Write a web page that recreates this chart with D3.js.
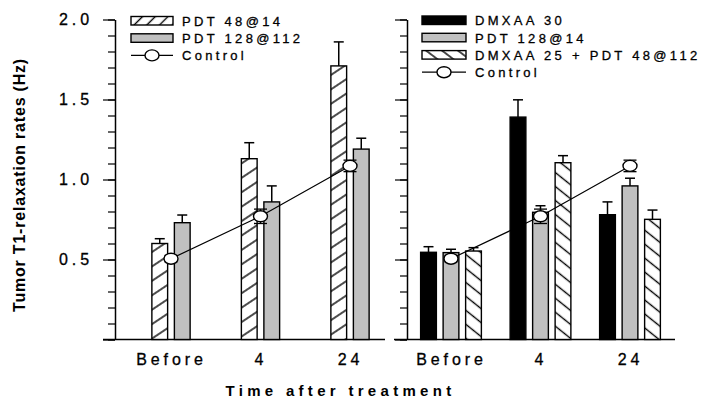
<!DOCTYPE html>
<html>
<head>
<meta charset="utf-8">
<script src="https://cdn.jsdelivr.net/npm/d3@7"></script>
<style>
  body { margin: 0; background: #fff; }
  svg { display: block; font-family: "Liberation Sans", Arial, sans-serif; }
  .thick { stroke: #000; stroke-width: 0.3px; }
</style>
</head>
<body>
<div id="chart-container"></div>
<script>
// 圖表尺寸
const width = 703;
const height = 406;

// 資料
const timeLabels = ["Before", "4", "24"];

// 左圖
const pdt48at14 = [0.60, 1.13, 1.71];
const pdt48at14Err = [0.03, 0.10, 0.15];
const pdt128at112 = [0.73, 0.86, 1.19];
const pdt128at112Err = [0.048, 0.10, 0.068];

// 右圖
const dmxaa30 = [0.545, 1.39, 0.78];
const dmxaa30Err = [0.035, 0.108, 0.08];
const pdt128at14 = [0.543, 0.795, 0.96];
const pdt128at14Err = [0.021, 0.041, 0.048];
const dmxaa25pdt48 = [0.553, 1.105, 0.751];
const dmxaa25pdt48Err = [0.021, 0.044, 0.058];

// 對照組 (兩圖相同)
const control = [0.505, 0.77, 1.085];
const controlErr = [0.02, 0.045, 0.036];

// y 軸刻度
const yMajorTicks = [0, 0.5, 1.0, 1.5, 2.0];
const yMinorTicks = d3.range(0, 21).map(d => d / 10);
const yTickLabels = ["", "0.5", "1.0", "1.5", "2.0"];

const gray = "#c0c0c0";

// y 比例尺
const y = d3.scaleLinear().domain([0, 2]).range([339.5, 19.5]);

const svg = d3.select("#chart-container")
  .append("svg")
  .attr("width", width)
  .attr("height", height);

// 斜線圖樣
const defs = svg.append("defs");
function hatch(id, angle, gap) {
  const p = defs.append("pattern")
    .attr("id", id)
    .attr("patternUnits", "userSpaceOnUse")
    .attr("width", 10)
    .attr("height", gap)
    .attr("patternTransform", `rotate(${angle})`);
  p.append("rect").attr("width", 10).attr("height", gap).attr("fill", "#fff");
  p.append("line")
    .attr("x1", -1).attr("x2", 11)
    .attr("y1", gap / 2).attr("y2", gap / 2)
    .attr("stroke", "#000")
    .attr("stroke-width", 1.4);
}
hatch("hatchUp", -33.7, 12);
hatch("hatchDown", 38.7, 10.9);
hatch("hatchUpLegend", -45, 9);
hatch("hatchDownLegend", 37, 9.6);

const panels = [
  {
    axisX: 115,
    lineX: [103, 385],
    range: [171, 350],
    showLabels: true,
    series: [
      { name: "PDT 48@14", values: pdt48at14, err: pdt48at14Err, fill: "url(#hatchUp)", legendFill: "url(#hatchUpLegend)" },
      { name: "PDT 128@112", values: pdt128at112, err: pdt128at112Err, fill: gray, legendFill: gray }
    ],
    legend: { x: 131, y: 16.5, w: 42 }
  },
  {
    axisX: 407,
    lineX: [394, 675],
    range: [451, 630],
    showLabels: false,
    series: [
      { name: "DMXAA 30", values: dmxaa30, err: dmxaa30Err, fill: "#000", legendFill: "#000" },
      { name: "PDT 128@14", values: pdt128at14, err: pdt128at14Err, fill: gray, legendFill: gray },
      { name: "DMXAA 25 + PDT 48@112", values: dmxaa25pdt48, err: dmxaa25pdt48Err, fill: "url(#hatchDown)", legendFill: "url(#hatchDownLegend)" }
    ],
    legend: { x: 422, y: 16, w: 44 }
  }
];

const step = 22.5;

panels.forEach(panel => {
  const g = svg.append("g");

  const x = d3.scalePoint().domain(timeLabels).range(panel.range);
  const n = panel.series.length;
  const xSub = d3.scaleBand()
    .domain(panel.series.map(s => s.name))
    .range([-n * step / 2, n * step / 2])
    .paddingInner(0.3)
    .paddingOuter(0.15);

  // x 軸線
  g.append("line")
    .attr("x1", panel.lineX[0]).attr("x2", panel.lineX[1])
    .attr("y1", y(0)).attr("y2", y(0))
    .attr("stroke", "#000").attr("stroke-width", 1.5);

  // x 軸標籤
  g.append("g")
    .attr("transform", `translate(0,${y(0)})`)
    .style("font-size", "16px")
    .call(d3.axisBottom(x).tickSize(0).tickPadding(14))
    .call(g => g.select(".domain").remove())
    .selectAll("text")
    .attr("fill", "#000")
    .attr("class", "thick")
    .style("font-family", '"Liberation Sans", Arial, sans-serif')
    .style("letter-spacing", "3.9px");

  // y 軸 (次要刻度)
  g.append("g")
    .attr("transform", `translate(${panel.axisX},0)`)
    .call(d3.axisLeft(y).tickValues(yMinorTicks).tickSize(7).tickSizeOuter(0).tickFormat(""))
    .call(g => g.select(".domain").attr("stroke-width", 1.5))
    .selectAll(".tick line").attr("stroke-width", 1.2);

  // y 軸 (主要刻度)
  const major = g.append("g")
    .attr("transform", `translate(${panel.axisX},0)`)
    .style("font-size", "16px")
    .call(d3.axisLeft(y).tickValues(yMajorTicks).tickSize(12).tickPadding(10)
      .tickFormat((d, i) => panel.showLabels ? yTickLabels[i] : ""))
    .call(g => g.select(".domain").remove());
  major.selectAll(".tick line").attr("stroke-width", 1.2);
  major.selectAll(".tick text")
    .attr("fill", "#000")
    .attr("class", "thick")
    .attr("x", -22)
    .style("font-family", '"Liberation Sans", Arial, sans-serif')
    .style("letter-spacing", "3.9px");

  // 長條
  panel.series.forEach(s => {
    const bw = xSub.bandwidth();
    const bars = g.append("g");
    bars.selectAll("g.err")
      .data(s.values)
      .join("g")
      .attr("class", "err")
      .each(function (d, i) {
        const cx = x(timeLabels[i]) + xSub(s.name) + bw / 2;
        const top = y(d + s.err[i]);
        d3.select(this).append("line")
          .attr("x1", cx).attr("x2", cx)
          .attr("y1", y(d)).attr("y2", top)
          .attr("stroke", "#000").attr("stroke-width", 1.5);
        d3.select(this).append("line")
          .attr("x1", cx - 5).attr("x2", cx + 5)
          .attr("y1", top).attr("y2", top)
          .attr("stroke", "#000").attr("stroke-width", 1.5);
      });
    bars.selectAll("rect")
      .data(s.values)
      .join("rect")
      .attr("x", (d, i) => x(timeLabels[i]) + xSub(s.name))
      .attr("width", bw)
      .attr("y", d => y(d))
      .attr("height", d => y(0) - y(d))
      .attr("fill", s.fill)
      .attr("stroke", "#000")
      .attr("stroke-width", 1.4);
  });

  // 對照組折線
  const line = d3.line()
    .x((d, i) => x(timeLabels[i]))
    .y(d => y(d));
  g.append("path")
    .datum(control)
    .attr("fill", "none")
    .attr("stroke", "#000")
    .attr("stroke-width", 1.2)
    .attr("d", line);

  const ctrl = g.append("g").selectAll("g")
    .data(control)
    .join("g");
  ctrl.each(function (d, i) {
    const cx = x(timeLabels[i]);
    const sel = d3.select(this);
    sel.append("line")
      .attr("x1", cx).attr("x2", cx)
      .attr("y1", y(d - controlErr[i])).attr("y2", y(d + controlErr[i]))
      .attr("stroke", "#000").attr("stroke-width", 1.3);
    [d - controlErr[i], d + controlErr[i]].forEach(v => {
      sel.append("line")
        .attr("x1", cx - 6.5).attr("x2", cx + 6.5)
        .attr("y1", y(v)).attr("y2", y(v))
        .attr("stroke", "#000").attr("stroke-width", 1.3);
    });
    sel.append("ellipse")
      .attr("cx", cx).attr("cy", y(d))
      .attr("rx", 7).attr("ry", 5.5)
      .attr("fill", "#fff")
      .attr("stroke", "#000")
      .attr("stroke-width", 1.4);
  });

  // 圖例
  const lg = g.append("g")
    .style("font-size", "13px")
    .style("letter-spacing", "3.3px");
  const rowH = 17.3;
  panel.series.forEach((s, i) => {
    lg.append("rect")
      .attr("x", panel.legend.x)
      .attr("y", panel.legend.y + i * rowH)
      .attr("width", panel.legend.w)
      .attr("height", 8.5)
      .attr("fill", s.legendFill)
      .attr("stroke", "#000")
      .attr("stroke-width", 1.4);
    lg.append("text")
      .attr("class", "thick")
      .attr("x", panel.legend.x + panel.legend.w + 9)
      .attr("y", panel.legend.y + i * rowH + 9.2)
      .text(s.name);
  });
  const cy = panel.legend.y + n * rowH + 4.3;
  lg.append("line")
    .attr("x1", panel.legend.x).attr("x2", panel.legend.x + panel.legend.w)
    .attr("y1", cy).attr("y2", cy)
    .attr("stroke", "#000").attr("stroke-width", 1.2);
  lg.append("ellipse")
    .attr("cx", panel.legend.x + panel.legend.w / 2).attr("cy", cy)
    .attr("rx", 7).attr("ry", 5.5)
    .attr("fill", "#fff").attr("stroke", "#000").attr("stroke-width", 1.4);
  lg.append("text")
    .attr("class", "thick")
    .attr("x", panel.legend.x + panel.legend.w + 9)
    .attr("y", cy + 4.9)
    .text("Control");
});

// 軸標題
svg.append("text")
  .attr("x", 340.5)
  .attr("y", 396)
  .style("text-anchor", "middle")
  .style("font-size", "15px")
  .style("font-weight", "bold")
  .style("letter-spacing", "4.3px")
  .text("Time after treatment");

svg.append("text")
  .attr("transform", "translate(25,185) rotate(-90)")
  .style("text-anchor", "middle")
  .style("font-size", "16px")
  .style("font-weight", "bold")
  .style("letter-spacing", "0.8px")
  .text("Tumor T1-relaxation rates (Hz)");
</script>
</body>
</html>
